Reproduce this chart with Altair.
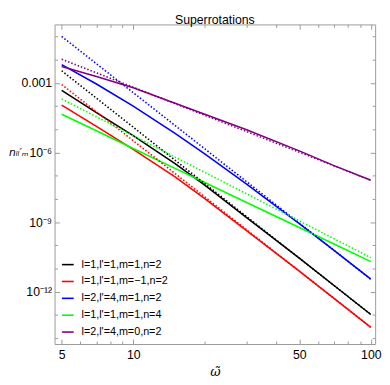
import altair as alt
import pandas as pd

# ---- data ----
omega = [5, 7, 10, 15, 20, 30, 50, 70, 100]

labels = ["l=1,l'=1,m=1,n=2", "l=1,l'=1,m=\u22121,n=2", "l=2,l'=4,m=1,n=2",
          "l=1,l'=1,m=1,n=4", "l=2,l'=4,m=0,n=2"]
colors = ["#000000", "#ff0000", "#0000ff", "#00ff00", "#800080"]

black_exact = [4.69e-4, 5.16e-5, 5.27e-6, 3.30e-7, 3.90e-8, 1.58e-9, 2.80e-11, 1.88e-12, 1.06e-13]
black_asym = [3.27e-3, 2.18e-4, 1.23e-5, 4.64e-7, 4.59e-8, 1.74e-9, 2.83e-11, 1.88e-12, 1.06e-13]
red_exact = [1.09e-4, 1.32e-5, 1.35e-6, 8.90e-8, 1.04e-8, 4.30e-10, 7.77e-12, 5.21e-13, 2.97e-14]
red_asym = [8.39e-4, 5.64e-5, 3.21e-6, 1.24e-7, 1.23e-8, 4.73e-10, 7.77e-12, 5.21e-13, 2.97e-14]
blue_exact = [6.04e-3, 8.81e-4, 9.81e-5, 6.59e-6, 8.65e-7, 4.38e-8, 8.65e-10, 6.09e-11, 3.54e-12]
blue_asym = [9.82e-2, 6.59e-3, 3.75e-4, 1.45e-5, 1.43e-6, 5.53e-8, 9.08e-10, 6.09e-11, 3.47e-12]
green_exact = [4.38e-5, 8.56e-6, 1.49e-6, 2.07e-7, 5.12e-8, 7.05e-9, 5.92e-10, 1.15e-10, 2.00e-11]
green_asym = [2.01e-4, 3.44e-5, 5.27e-6, 6.27e-7, 1.39e-7, 1.66e-8, 1.14e-9, 1.94e-10, 2.97e-11]
purple_exact = [4.97e-3, 1.88e-3, 6.15e-4, 1.30e-4, 4.42e-5, 9.44e-6, 1.17e-6, 2.72e-7, 6.34e-8]
purple_asym = [1.03e-2, 2.67e-3, 6.40e-4, 1.26e-4, 3.97e-5, 7.85e-6, 1.02e-6, 2.64e-7, 6.34e-8]

x_major = [5, 10, 50, 100]
x_minor = [6, 7, 8, 9, 20, 30, 40, 60, 70, 80, 90]
y_major = [1e-3, 1e-6, 1e-9, 1e-12]
y_minor = [1e-1, 1e-2, 1e-4, 1e-5, 1e-7, 1e-8, 1e-10, 1e-11, 1e-13, 1e-14]

exact = [black_exact, red_exact, blue_exact, green_exact, purple_exact]
asym = [black_asym, red_asym, blue_asym, green_asym, purple_asym]

rows_exact, rows_asym = [], []
for lab, col, ex, asy in zip(labels, colors, exact, asym):
    for w, v in zip(omega, ex):
        rows_exact.append({"omega": w, "n": v, "series": lab})
    for w, v in zip(omega, asy):
        rows_asym.append({"omega": w, "n": v, "series": lab, "hex": col})
df_exact = pd.DataFrame(rows_exact)
df_asym = pd.DataFrame(rows_asym)

FONT = "Liberation Sans"
GRAY = "#9a9a9a"
W, H = 327, 326

xscale = alt.Scale(type="log", domain=[4.666, 104.27], nice=False)
yscale = alt.Scale(type="log", domain=[10 ** -14.245, 10 ** -0.489], nice=False)

ylab = ("round(log(datum.value)/LN10) == -3 ? '0.001' : "
        "round(log(datum.value)/LN10) == -6 ? '10\u207b\u2076' : "
        "round(log(datum.value)/LN10) == -9 ? '10\u207b\u2079' : '10\u207b\u00b9\u00b2'")


def ax(orient, values, size, labels_on=False, **kw):
    return alt.Axis(orient=orient, values=values, tickSize=size, offset=-size,
                    domain=False, grid=False, labels=labels_on, tickColor=GRAY,
                    tickWidth=1, **kw)


solid = alt.Chart(df_exact).mark_line(strokeWidth=1.6, clip=True).encode(
    x=alt.X("omega:Q", scale=xscale,
            axis=ax("bottom", x_major, 5, True, labelExpr="datum.value",
                    labelPadding=5, title="\u03c9\u0303", titleFont="DejaVu Serif",
                    titleFontStyle="italic", titleFontWeight="normal", titleFontSize=13,
                    titleY=33, titleBaseline="middle")),
    y=alt.Y("n:Q", scale=yscale,
            axis=ax("left", y_major, 5, True, labelExpr=ylab, labelPadding=3,
                    title="n\u2097\u2097\u2032\u2098", titleFont="DejaVu Sans",
                    titleFontStyle="italic", titleFontWeight="normal", titleFontSize=11,
                    titleAngle=0, titleX=-52, titleY=131, titleAlign="left",
                    titleBaseline="middle")),
    color=alt.Color("series:N", scale=alt.Scale(domain=labels, range=colors),
                    sort=labels,
                    legend=alt.Legend(title=None, orient="none", legendX=6.5, legendY=238,
                                      symbolType="stroke", symbolSize=144,
                                      symbolStrokeWidth=1.6, labelFont=FONT,
                                      labelFontSize=11, labelOffset=7, rowPadding=5.2,
                                      padding=0, labelLimit=300)),
)

dotted = alt.Chart(df_asym).mark_line(strokeWidth=1.6, strokeDash=[1.5, 2], clip=True).encode(
    x=alt.X("omega:Q", scale=xscale, axis=ax("bottom", x_minor, 3, title=None)),
    y=alt.Y("n:Q", scale=yscale, axis=ax("left", y_minor, 3, title=None)),
    color=alt.Color("hex:N", scale=None),
    detail="series:N",
)

top_major = alt.Chart(df_exact).mark_line(opacity=0).encode(
    x=alt.X("omega:Q", scale=xscale, axis=ax("top", x_major, 5, title=None)),
    y=alt.Y("n:Q", scale=yscale, axis=ax("right", y_major, 5, title=None)),
    detail="series:N",
)

top_minor = alt.Chart(df_exact).mark_line(opacity=0).encode(
    x=alt.X("omega:Q", scale=xscale, axis=ax("top", x_minor, 3, title=None)),
    y=alt.Y("n:Q", scale=yscale, axis=ax("right", y_minor, 3, title=None)),
    detail="series:N",
)

chart = alt.layer(solid, dotted, top_major, top_minor).resolve_axis(
    x="independent", y="independent"
).properties(
    width=W, height=H,
    autosize=alt.AutoSizeParams(type="none"),
    padding={"left": 47.5, "top": 13, "right": 7, "bottom": 36},
    title=alt.TitleParams("Superrotations", font=FONT, fontSize=12.5, fontWeight="normal",
                          color="black", anchor="middle", frame="group", offset=3.5,
                          baseline="alphabetic", dy=16),
).configure_view(stroke=GRAY, strokeWidth=1).configure_axis(
    labelFont=FONT, labelFontSize=12.5, labelColor="black"
)

chart.save("out.html", embed_options={"renderer": "svg", "actions": False})
